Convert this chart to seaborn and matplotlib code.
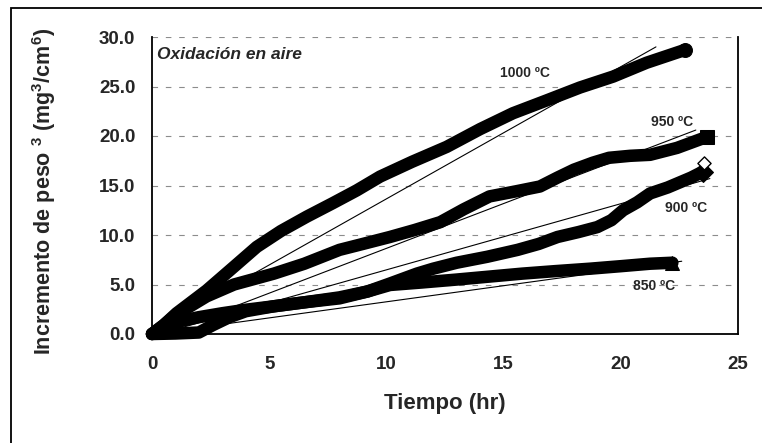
import matplotlib
matplotlib.use("Agg")
import matplotlib.pyplot as plt
import seaborn as sns
from matplotlib.patches import Rectangle
from matplotlib.ticker import MultipleLocator, FormatStrFormatter

# weight gain cubed vs time
t_1000 = [0, 0.5, 1.05, 2.33, 3.5, 4.47, 5.5, 6.6, 7.7, 8.73, 9.73, 11.1, 12.57,
          14.0, 15.4, 16.84, 18.26, 19.67, 21.1, 22.74]
v_1000 = [0, 0.9, 2.1, 4.4, 6.8, 8.8, 10.4, 11.85, 13.2, 14.5, 15.9, 17.4, 18.9,
          20.7, 22.3, 23.6, 24.9, 26.0, 27.4, 28.7]

t_950 = [0, 0.5, 1.0, 2.33, 3.5, 5.2, 6.5, 8.0, 9.0, 10.15, 11.2, 12.3, 13.3, 14.4,
         15.5, 16.55, 17.3, 18.0, 18.8, 19.5, 20.4, 21.25, 22.4, 23.66]
v_950 = [0, 0.9, 1.9, 3.8, 5.0, 6.1, 7.1, 8.5, 9.1, 9.8, 10.5, 11.3, 12.6, 13.9,
         14.4, 14.9, 15.8, 16.6, 17.3, 17.8, 18.0, 18.1, 18.8, 19.9]

t_900 = [0, 1.0, 2.0, 2.6, 3.3, 4.0, 5.2, 6.5, 8.0, 9.2, 10.15, 11.3, 12.0, 13.0, 14.3,
         15.6, 16.5, 17.3, 18.2, 19.0, 19.6, 20.1, 20.7, 21.25, 22.0, 22.5, 23.0, 23.5]
v_900 = [0, 0.05, 0.15, 0.9, 1.7, 2.3, 2.8, 3.2, 3.7, 4.3, 5.1, 6.1, 6.6, 7.2, 7.8,
         8.5, 9.1, 9.8, 10.3, 10.8, 11.5, 12.5, 13.3, 14.2, 14.8, 15.3, 15.8, 16.4]
t_900_out = [23.55]
v_900_out = [17.3]

t_850 = [0, 1.0, 2.0, 3.0, 4.0, 5.2, 6.5, 8.0, 9.2, 10.15, 11.5, 13.0, 14.4, 15.8,
         17.2, 18.7, 20.0, 21.25, 22.2]
v_850 = [0, 1.2, 1.7, 2.1, 2.45, 2.8, 3.2, 3.6, 4.3, 4.95, 5.2, 5.5, 5.8, 6.1,
         6.35, 6.6, 6.85, 7.1, 7.2]

# linear trend lines: start/end points
fit_t = {"1000": [0.0, 21.5], "950": [0.5, 23.2], "900": [0.3, 23.8], "850": [0.0, 22.6]}
fit_v = {"1000": [0.3, 29.0], "950": [0.05, 20.6], "900": [0.0, 15.7], "850": [0.0, 7.35]}

labels = ["1000 ºC", "950 ºC", "900 ºC", "850 ºC"]
label_t = [15.9, 22.2, 22.8, 21.4]
label_v = [26.4, 21.4, 12.7, 4.8]

sns.set_style("white")
plt.rcParams['font.family'] = ['Liberation Sans', 'DejaVu Sans']
plt.rcParams['font.weight'] = 'bold'
plt.rcParams['mathtext.fontset'] = 'custom'
plt.rcParams['mathtext.rm'] = 'Liberation Sans:bold'
plt.rcParams['mathtext.bf'] = 'Liberation Sans:bold'
plt.rcParams['mathtext.default'] = 'bf'

fig = plt.figure(figsize=(7.62, 4.43), dpi=100)
ax = fig.add_axes([152 / 762, 1 - 334 / 443, 586 / 762, 297 / 443])

# outer frame of the original figure
fig.patches.append(Rectangle((11 / 762, -0.1), 1.2, 1.1 - 8 / 443, transform=fig.transFigure,
                             fill=False, edgecolor='black', linewidth=1.3))

for y in range(5, 31, 5):
    ax.axhline(y, color='#8c8c8c', linewidth=0.8, linestyle=(0, (5, 7)), zorder=0)

series = [(t_1000, v_1000, 'o'), (t_950, v_950, 's'), (t_900, v_900, 'D'), (t_850, v_850, '^')]
for t, v, mk in series:
    sns.lineplot(x=t, y=v, ax=ax, color='black', linewidth=9, sort=False,
                 solid_capstyle='round', solid_joinstyle='round', marker=mk, markevery=[-1],
                 markersize=10, markerfacecolor='black', markeredgecolor='black', clip_on=False)

sns.scatterplot(x=t_900_out, y=v_900_out, ax=ax, marker='D', s=45, color='white',
                edgecolor='black', linewidth=1.0, zorder=5)

for key in fit_t:
    sns.lineplot(x=fit_t[key], y=fit_v[key], ax=ax, color='black', linewidth=0.8, zorder=4)

for txt, tx, ty in zip(labels, label_t, label_v):
    ax.text(tx, ty, txt, fontsize=10, fontweight='bold', ha='center', va='center')

ax.text(0.2, 29.0, "Oxidación en aire", fontsize=12.5, fontweight='bold', style='italic',
        ha='left', va='top')

ax.set_xlim(0, 25)
ax.set_ylim(0, 30)
ax.xaxis.set_major_locator(MultipleLocator(5))
ax.xaxis.set_minor_locator(MultipleLocator(1))
ax.yaxis.set_major_locator(MultipleLocator(5))
ax.yaxis.set_minor_locator(MultipleLocator(1))
ax.yaxis.set_major_formatter(FormatStrFormatter('%.1f'))

ax.tick_params(which='major', direction='inout', length=8, width=1.0, labelsize=13.5, pad=12)
ax.tick_params(axis='y', which='major', pad=8)
ax.tick_params(which='minor', direction='in', length=4, width=1.0)
for lab in ax.get_xticklabels() + ax.get_yticklabels():
    lab.set_fontweight('bold')

ax.spines['top'].set_visible(False)
for s in ['left', 'bottom', 'right']:
    ax.spines[s].set_color('black')
    ax.spines[s].set_linewidth(1.3)

ax.set_xlabel("Tiempo (hr)", fontsize=16, fontweight='bold')
ax.xaxis.set_label_coords(0.5, -0.2)
ax.set_ylabel("Incremento de peso $^3$ (mg$^3$/cm$^6$)", fontsize=15.5, fontweight='bold')
ax.yaxis.set_label_coords(-0.16, 0.48)

fig.savefig("out.png", dpi=100)
plt.close(fig)
